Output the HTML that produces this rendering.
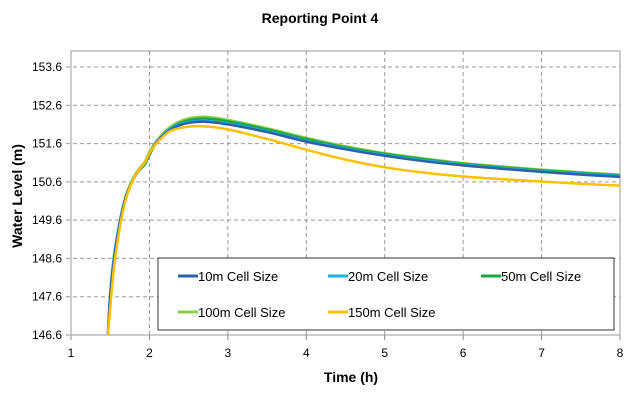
<!DOCTYPE html>
<html><head><meta charset="utf-8"><style>
body{margin:0;background:#fff;font-family:"Liberation Sans",sans-serif}
</style></head><body>
<svg id="chart" width="640" height="404" xmlns="http://www.w3.org/2000/svg" font-family="Liberation Sans, sans-serif">
<rect width="640" height="404" fill="#fff"/>
<text x="320" y="23" text-anchor="middle" font-size="14" font-weight="bold">Reporting Point 4</text>
<text x="351" y="382" text-anchor="middle" font-size="14" font-weight="bold">Time (h)</text>
<text transform="translate(22,196) rotate(-90)" text-anchor="middle" font-size="14" font-weight="bold">Water Level (m)</text>
<g id="grid"></g><g id="series"></g><g id="legend"></g>
</svg>
<script>
const times=[1.47,1.5,1.55,1.63,1.7,1.78,1.86,1.94,2.0,2.1,2.26,2.45,2.7,3.0,3.5,4,4.5,5,5.5,6,6.5,7,7.5,8];
const s10=[146.6,147.6,148.6,149.6,150.2,150.6,150.9,151.1,151.35,151.65,151.95,152.12,152.17,152.1,151.9,151.65,151.45,151.28,151.14,151.03,150.94,150.86,150.79,150.73];
const s20=[146.6,147.7,148.7,149.65,150.22,150.6,150.9,151.1,151.35,151.66,151.97,152.14,152.19,152.12,151.92,151.67,151.47,151.3,151.16,151.05,150.96,150.88,150.81,150.75];
const s50=[146.6,147.6,148.6,149.6,150.2,150.6,150.88,151.05,151.3,151.65,151.98,152.18,152.25,152.18,151.97,151.72,151.5,151.33,151.19,151.07,150.98,150.9,150.83,150.77];
const s100=[146.6,147.65,148.65,149.65,150.25,150.65,150.92,151.12,151.38,151.7,152.03,152.23,152.3,152.22,152.0,151.75,151.53,151.35,151.21,151.09,151.0,150.92,150.85,150.79];
const s150=[146.6,147.3,148.4,149.5,150.15,150.6,150.9,151.1,151.35,151.63,151.92,152.03,152.05,151.97,151.72,151.44,151.18,150.98,150.84,150.74,150.67,150.61,150.55,150.5];
const xTicks=[1,2,3,4,5,6,7,8];
const yTicks=[146.6,147.6,148.6,149.6,150.6,151.6,152.6,153.6];
const names=["10m Cell Size","20m Cell Size","50m Cell Size","100m Cell Size","150m Cell Size"];
const colors=["#2e5fa8","#1ab0e8","#14a84a","#8cd048","#ffc000"];
const NS="http://www.w3.org/2000/svg";
const X=t=>71+(t-1)*(620-71)/7;
const Y=v=>335-(v-146.6)*(335-67)/7;
function mk(tag,attrs,parent){const e=document.createElementNS(NS,tag);for(const k in attrs)e.setAttribute(k,attrs[k]);parent.appendChild(e);return e;}
const grid=document.getElementById('grid');
xTicks.forEach((t,i)=>{
 if(i>0){const l=mk('line',{x1:X(t),x2:X(t),y1:51,y2:335,stroke:'#999','stroke-dasharray':'4,3'},grid);
 
 }
 const tk=mk('line',{x1:X(t),x2:X(t),y1:335,y2:340,stroke:'#888'},grid);
 
 
 const tx=mk('text',{x:X(t),y:357,'text-anchor':'middle','font-size':12},grid);tx.textContent=t;
 
 
});
yTicks.forEach(v=>{
 const l=mk('line',{x1:66,x2:620,y1:Y(v),y2:Y(v),stroke:'#999','stroke-dasharray':'4,3'},grid);
 
 
 const tx=mk('text',{x:62,y:Y(v)+4,'text-anchor':'end','font-size':12},grid);tx.textContent=v.toFixed(1);
 
 
});
const frame=mk('rect',{x:71,y:51,width:549,height:284,fill:'none',stroke:'#999'},grid);


function path(vals){
 const p=times.map((t,i)=>[X(t),Y(vals[i])]);
 let d='M'+p[0][0]+','+p[0][1];
 for(let i=0;i<p.length-1;i++){
  const p0=p[Math.max(0,i-1)],p1=p[i],p2=p[i+1],p3=p[Math.min(p.length-1,i+2)];
  const c1=[p1[0]+(p2[0]-p0[0])/6,p1[1]+(p2[1]-p0[1])/6],c2=[p2[0]-(p3[0]-p1[0])/6,p2[1]-(p3[1]-p1[1])/6];
  d+=' C'+c1+' '+c2+' '+p2;
 }
 return d;
}
const ser=document.getElementById('series');
const order=[3,2,1,0,4];
const all=[s10,s20,s50,s100,s150];
order.forEach(i=>{
 const e=mk('path',{d:path(all[i]),fill:'none',stroke:colors[i],'stroke-width':2.5},ser);
 
 
});
const lg=document.getElementById('legend');
const box=mk('rect',{x:158,y:258,width:456,height:72,fill:'#fff',stroke:'#333'},lg);


const pos=[[178,276],[328,276],[481,276],[178,312],[328,312]];
names.forEach((n,i)=>{
 const g=mk('g',{},lg);
 
 
 mk('line',{x1:pos[i][0],x2:pos[i][0]+20,y1:pos[i][1],y2:pos[i][1],stroke:colors[i],'stroke-width':3},g);
 const t=mk('text',{x:pos[i][0]+20,y:pos[i][1]+5,'font-size':13},g);t.textContent=n;
});
</script>
</body></html>
